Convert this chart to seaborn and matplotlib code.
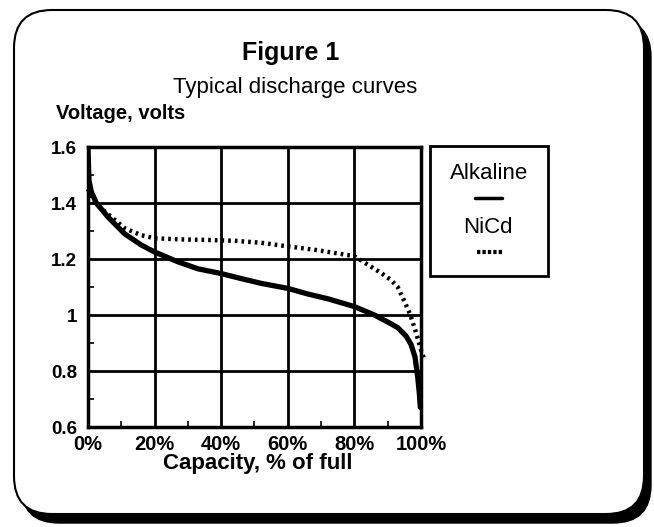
import numpy as np
import pandas as pd
import matplotlib
matplotlib.use('Agg')
import matplotlib.pyplot as plt
import seaborn as sns
from matplotlib.patches import FancyBboxPatch, Rectangle
from matplotlib.lines import Line2D

# ------------------------------------------------------------
# data
# ------------------------------------------------------------
alk_capacity = [0, 0.3, 1, 2.5, 6, 11, 16, 20, 27, 33, 40, 46, 52, 60, 66, 72,
                80, 86, 90, 93, 95.5, 97, 98.2, 99, 99.5, 99.8]
alk_voltage = [1.59, 1.48, 1.44, 1.40, 1.35, 1.29, 1.25, 1.225, 1.19, 1.165, 1.148,
               1.13, 1.113, 1.095, 1.075, 1.058, 1.03, 1.0, 0.975, 0.955, 0.925,
               0.895, 0.85, 0.78, 0.72, 0.67]

nicd_capacity = [0, 2, 6, 11, 16, 20, 28, 36, 44, 52, 60, 68, 76, 80, 84, 88,
                 91, 93, 95, 96.8, 98.3, 100, 101]
nicd_voltage = [1.45, 1.40, 1.36, 1.31, 1.285, 1.274, 1.27, 1.268, 1.265, 1.258,
                1.245, 1.233, 1.218, 1.21, 1.18, 1.15, 1.125, 1.10, 1.05, 1.0,
                0.945, 0.875, 0.84]

x_ticks = [0, 20, 40, 60, 80, 100]
x_labels = ['0%', '20%', '40%', '60%', '80%', '100%']
y_ticks = [0.6, 0.8, 1.0, 1.2, 1.4, 1.6]
y_labels = ['0.6', '0.8', '1', '1.2', '1.4', '1.6']

df = pd.concat([
    pd.DataFrame({'capacity': alk_capacity, 'voltage': alk_voltage, 'cell': 'Alkaline'}),
    pd.DataFrame({'capacity': nicd_capacity, 'voltage': nicd_voltage, 'cell': 'NiCd'}),
])

sns.set_style('white')
plt.rcParams['font.family'] = ['Liberation Sans', 'DejaVu Sans']
plt.rcParams['text.color'] = 'black'
plt.rcParams['xtick.color'] = 'black'
plt.rcParams['ytick.color'] = 'black'

W, H = 654, 527
fig = plt.figure(figsize=(W / 100, H / 100), dpi=100)

def px(x, y):
    # pixel position from top-left -> figure fraction
    return x / W, 1 - y / H

# rounded frame with heavy shadow on right/bottom
shadow = FancyBboxPatch(px(21, 523), 630 / W, 504 / H,
                        boxstyle='round,pad=0,rounding_size=0.058',
                        transform=fig.transFigure, facecolor='black',
                        edgecolor='black', zorder=0, mutation_aspect=W / H)
frame = FancyBboxPatch(px(14, 514), 630 / W, 504 / H,
                       boxstyle='round,pad=0,rounding_size=0.058',
                       transform=fig.transFigure, facecolor='white',
                       edgecolor='black', linewidth=1.5, zorder=1, mutation_aspect=W / H)
fig.patches.extend([shadow, frame])

ax = fig.add_axes([88 / W, 1 - 427 / H, 333 / W, 280 / H])
ax.set_zorder(2)
ax.patch.set_facecolor('white')

alk = df[df['cell'] == 'Alkaline']
nicd = df[df['cell'] == 'NiCd']
sns.lineplot(data=alk, x='capacity', y='voltage', ax=ax, color='black',
             linewidth=3.8, sort=False, estimator=None)
sns.lineplot(data=nicd, x='capacity', y='voltage', ax=ax, color='black',
             linewidth=3.2, linestyle=(0, (0.6, 0.9)), sort=False,
             estimator=None, clip_on=False)

ax.set_xlim(0, 100)
ax.set_ylim(0.6, 1.6)
ax.set_xticks(x_ticks)
ax.set_xticklabels(x_labels, fontsize=14.5, fontweight='bold')
ax.set_yticks(y_ticks)
ax.set_yticklabels(y_labels, fontsize=13.5, fontweight='bold')
ax.set_xticks(np.arange(10, 100, 20), minor=True)
ax.set_yticks(np.arange(0.7, 1.6, 0.2), minor=True)
ax.tick_params(axis='x', which='major', length=0, pad=6)
ax.tick_params(axis='y', which='major', length=0, pad=8)
ax.tick_params(axis='both', which='minor', direction='in', length=4, width=1.2,
               left=True, bottom=True)
ax.grid(True, which='major', color='black', linewidth=2)
for s in ax.spines.values():
    s.set_color('black')
    s.set_linewidth(2.5)
ax.set_xlabel('')
ax.set_ylabel('')

# titles
fig.text(*px(291, 60), 'Figure 1', ha='center', va='baseline',
         fontsize=18, fontweight='bold', zorder=3)
fig.text(*px(295, 93), 'Typical discharge curves', ha='center',
         va='baseline', fontsize=16, zorder=3)
fig.text(*px(56, 119), 'Voltage, volts', ha='left', va='baseline',
         fontsize=14.5, fontweight='bold', zorder=3)
fig.text(*px(258, 469), 'Capacity, % of full', ha='center', va='baseline',
         fontsize=16, fontweight='bold', zorder=3)

# legend box
fig.patches.append(Rectangle(px(430, 276), 118 / W, 130 / H,
                             transform=fig.transFigure, facecolor='white',
                             edgecolor='black', linewidth=2, zorder=3))
fig.text(*px(489, 179), 'Alkaline', ha='center', va='baseline',
         fontsize=16, zorder=4)
fig.lines.append(Line2D([475 / W, 502 / W], [1 - 198 / H, 1 - 198 / H],
                        transform=fig.transFigure, color='black',
                        linewidth=2.5, zorder=4))
fig.text(*px(488, 233), 'NiCd', ha='center', va='baseline',
         fontsize=16, zorder=4)
fig.lines.append(Line2D([477 / W, 503 / W], [1 - 252 / H, 1 - 252 / H],
                        transform=fig.transFigure, color='black',
                        linewidth=3, linestyle=(0, (0.8, 0.5)), zorder=4))

fig.savefig('out.png', dpi=100)
